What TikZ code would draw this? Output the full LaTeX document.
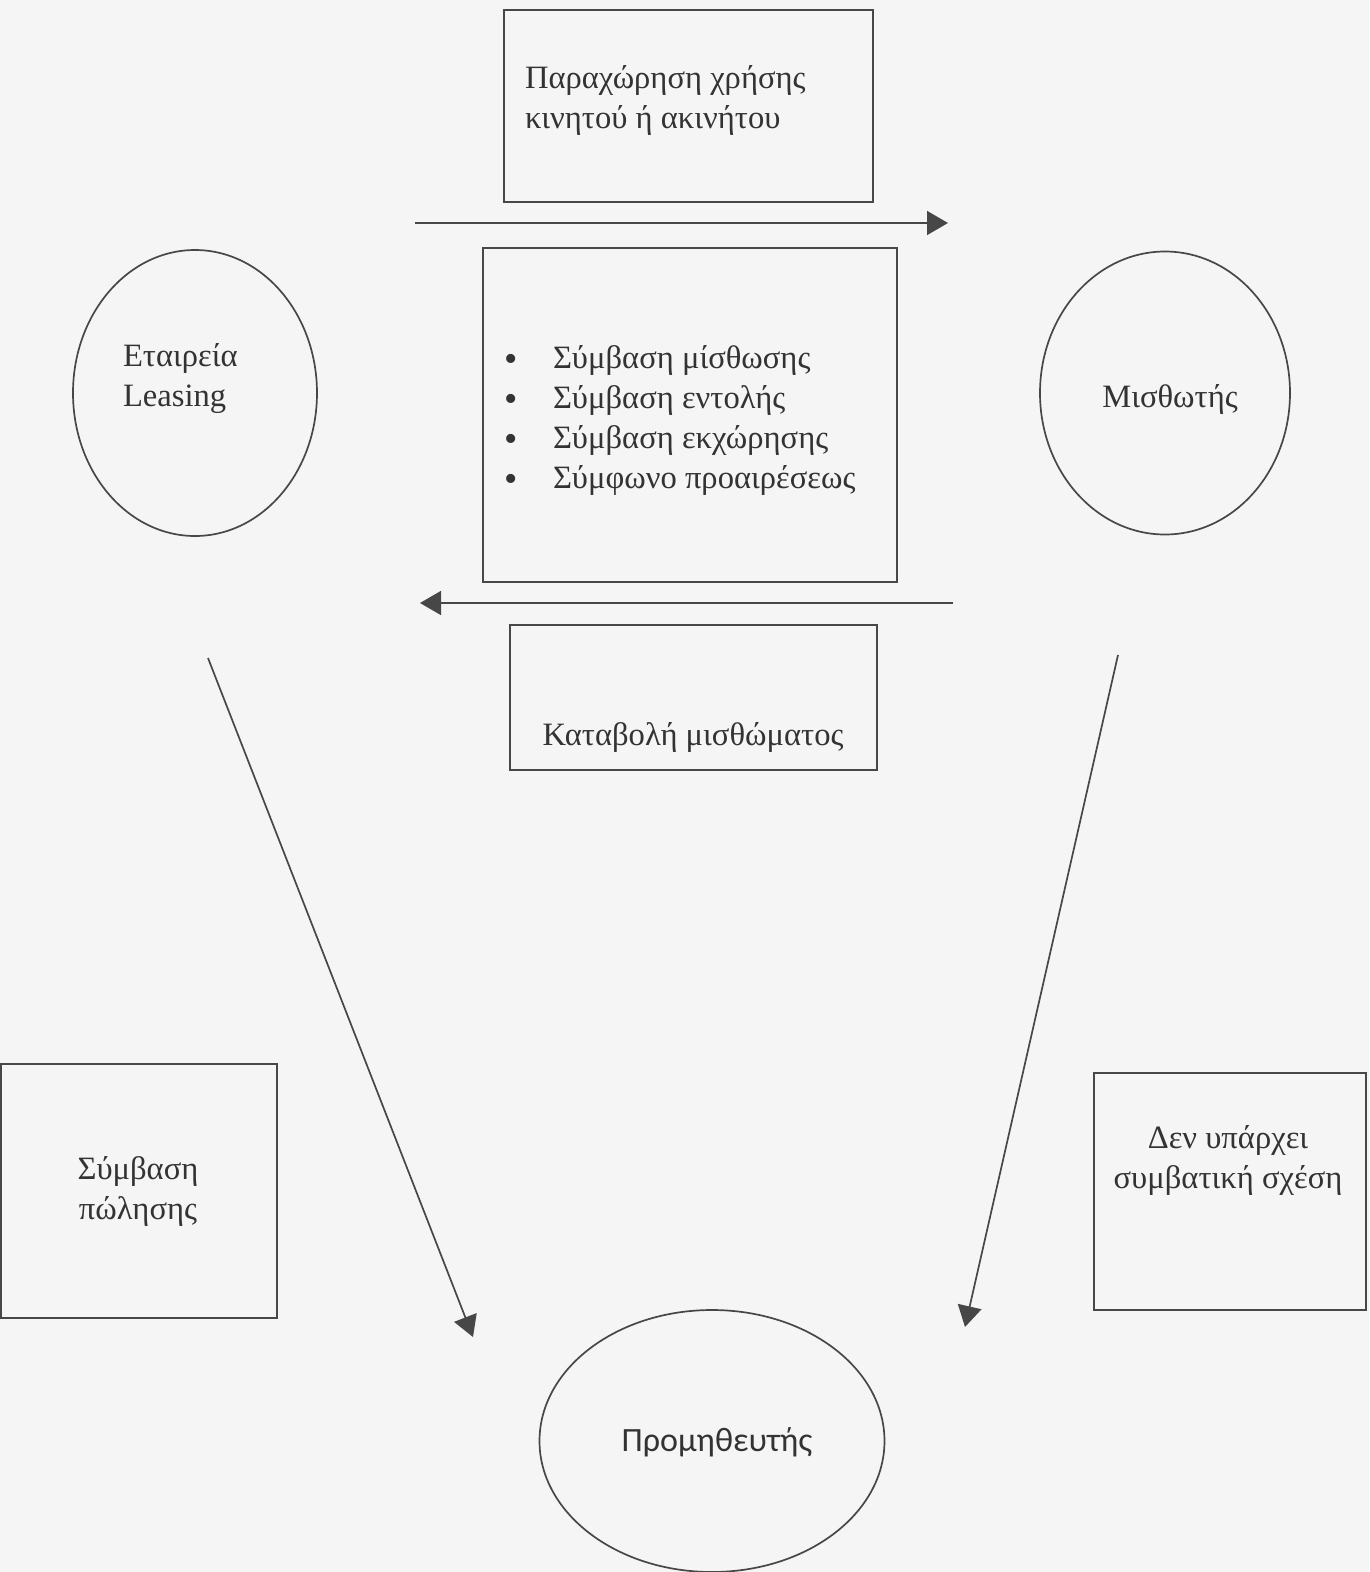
\documentclass[tikz,border=0pt]{standalone}
\usepackage{fontspec}
\setmainfont{Liberation Serif}
\newfontfamily\supfont{Carlito}
\usetikzlibrary{arrows.meta,shapes.geometric}

\newcommand{\blt}{\makebox[49pt][l]{\raisebox{-3pt}{\fontsize{38}{40}\selectfont\textbullet}}}

\begin{document}
\begin{tikzpicture}[x=1pt, y=-1pt, line width=1.7pt, outer sep=0pt,
                    every node/.style={text=black!80, font=\fontsize{32.6}{40}\selectfont},
                    box/.style={draw=black!72, rectangle, inner sep=0pt},
                    party/.style={draw=black!72, ellipse, inner sep=0pt},
                    flow/.style={draw=black!72, -{Triangle[length=21pt,width=24pt]}}]

\useasboundingbox[fill=black!4] (0,0) rectangle (1369,1572);

% contract boxes
\node[box, minimum width=369, minimum height=192] (grant) at (688.5,106) {};
\node[anchor=west, align=left, inner sep=0pt] (granttxt) at (525,100)
  {Παραχώρηση χρήσης\\κινητού ή ακινήτου};
\node[box, minimum width=414, minimum height=334] (deals) at (690,415) {};
\node[anchor=west, align=left, inner sep=0pt] (dealstxt) at (504,420)
  {\blt Σύμβαση μίσθωσης\\
   \blt Σύμβαση εντολής\\
   \blt Σύμβαση εκχώρησης\\
   \blt Σύμφωνο προαιρέσεως};
\node[box, minimum width=367, minimum height=145] (pay) at (693.5,697.5) {};
\node (paytxt) at (693,737) {Καταβολή μισθώματος};
\node[box, minimum width=276, minimum height=254] (sale) at (139,1191) {};
\node[align=center] (saletxt) at (138,1191) {Σύμβαση\\πώλησης};
\node[box, minimum width=272, minimum height=237] (none) at (1230,1191.5) {};
\node[align=center] (nonetxt) at (1228,1160) {Δεν υπάρχει\\συμβατική σχέση};

% parties
\node[party, minimum width=244, minimum height=286] (L) at (195,393) {};
\node[anchor=west, align=left, inner sep=0pt] (Ltxt) at (123,379) {Εταιρεία\\Leasing};
\node[party, minimum width=250, minimum height=283] (M) at (1165,393) {};
\node (Mtxt) at (1170,399) {Μισθωτής};
\node[party, minimum width=345, minimum height=262] (P) at (712,1441) {};
\node[font=\supfont\fontsize{34}{40}\selectfont] (Ptxt) at (717,1442) {Προμηθευτής};

% arrows
\coordinate (a1) at (415,223);   \coordinate (a2) at (948,223);
\coordinate (b1) at (953,603);   \coordinate (b2) at (420,603);
\coordinate (c1) at (208,658);   \coordinate (c2) at (473,1337);
\coordinate (d1) at (1118,655);  \coordinate (d2) at (965,1327);

\draw[flow] (a1) -- (a2);
\draw[flow] (b1) -- (b2);
\draw[flow] (c1) -- (c2);
\draw[flow] (d1) -- (d2);
\end{tikzpicture}
\end{document}
